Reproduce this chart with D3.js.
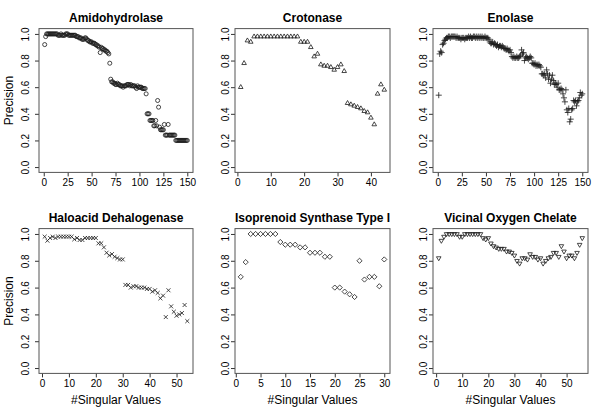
<!DOCTYPE html>
<html>
<head>
<meta charset="utf-8">
<script src="https://cdn.jsdelivr.net/npm/d3@7"></script>
<style>
  body { margin: 0; background: #fff; }
  svg { display: block; }
  text { font-family: "Liberation Sans", Arial, Helvetica, sans-serif; fill: #000; }
</style>
</head>
<body>
<div id="chart"></div>
<script>
const WIDTH = 600;
const HEIGHT = 413;

// precision per number of singular values, one array per superfamily
const amidohydrolase = [
  0.92, 0.98, 1.00, 1.00, 1.00, 1.00, 1.00, 1.00, 1.00, 1.00,
  1.00, 1.00, 1.00, 1.00, 0.99, 0.99, 0.99, 1.00, 0.99, 0.99,
  0.99, 0.99, 1.00, 1.00, 1.00, 0.99, 0.99, 0.99, 0.99, 0.99,
  0.99, 0.99, 0.99, 0.98, 0.98, 0.98, 0.97, 0.97, 0.97, 0.96,
  0.96, 0.96, 0.97, 0.97, 0.96, 0.95, 0.95, 0.94, 0.94, 0.94,
  0.93, 0.93, 0.93, 0.92, 0.92, 0.91, 0.91, 0.90, 0.86, 0.90,
  0.89, 0.89, 0.88, 0.88, 0.87, 0.87, 0.86, 0.85, 0.78, 0.66,
  0.64, 0.64, 0.63, 0.63, 0.62, 0.62, 0.63, 0.62, 0.62, 0.61,
  0.61, 0.61, 0.60, 0.61, 0.61, 0.61, 0.62, 0.62, 0.62, 0.61,
  0.62, 0.61, 0.61, 0.61, 0.61, 0.60, 0.59, 0.61, 0.60, 0.60,
  0.60, 0.60, 0.59, 0.59, 0.59, 0.59, 0.55, 0.40, 0.40, 0.40,
  0.35, 0.35, 0.35, 0.35, 0.31, 0.31, 0.35, 0.31, 0.50, 0.45,
  0.30, 0.28, 0.28, 0.28, 0.28, 0.32, 0.24, 0.24, 0.24, 0.32,
  0.24, 0.24, 0.24, 0.24, 0.24, 0.24, 0.24, 0.20, 0.20, 0.20,
  0.20, 0.20, 0.20, 0.20, 0.20, 0.20, 0.20, 0.20, 0.20, 0.20
];
const crotonase = [
  0.60, 0.78, 0.95, 0.94, 0.98, 0.98, 0.98, 0.98, 0.98, 0.98,
  0.98, 0.98, 0.98, 0.98, 0.98, 0.98, 0.98, 0.98, 0.94, 0.94,
  0.94, 0.90, 0.83, 0.85, 0.77, 0.76, 0.76, 0.75, 0.73, 0.75,
  0.77, 0.72, 0.48, 0.47, 0.46, 0.45, 0.44, 0.42, 0.41, 0.37,
  0.32, 0.55, 0.62, 0.58
];
const enolase = [
  0.54, 0.85, 0.87, 0.86, 0.92, 0.93, 0.95, 0.96, 0.97, 0.97,
  0.98, 0.98, 0.97, 0.98, 0.98, 0.98, 0.98, 0.98, 0.97, 0.98,
  0.97, 0.97, 0.97, 0.96, 0.97, 0.97, 0.97, 0.96, 0.97, 0.97,
  0.97, 0.98, 0.97, 0.98, 0.97, 0.97, 0.98, 0.98, 0.97, 0.98,
  0.97, 0.98, 0.97, 0.98, 0.97, 0.98, 0.97, 0.97, 0.98, 0.97,
  0.97, 0.97, 0.96, 0.94, 0.93, 0.93, 0.94, 0.92, 0.93, 0.92,
  0.91, 0.92, 0.90, 0.91, 0.91, 0.90, 0.91, 0.90, 0.89, 0.89,
  0.88, 0.89, 0.88, 0.87, 0.88, 0.86, 0.83, 0.82, 0.83, 0.82,
  0.82, 0.83, 0.82, 0.82, 0.83, 0.84, 0.88, 0.85, 0.86, 0.80,
  0.82, 0.83, 0.82, 0.81, 0.82, 0.83, 0.82, 0.78, 0.78, 0.77,
  0.78, 0.76, 0.77, 0.76, 0.77, 0.76, 0.75, 0.70, 0.70, 0.69,
  0.70, 0.67, 0.73, 0.70, 0.66, 0.69, 0.63, 0.66, 0.69, 0.65,
  0.62, 0.63, 0.62, 0.60, 0.63, 0.58, 0.58, 0.59, 0.58, 0.55,
  0.52, 0.49, 0.58, 0.43, 0.41, 0.44, 0.34, 0.36, 0.43, 0.44,
  0.50, 0.49, 0.50, 0.46, 0.49, 0.50, 0.52, 0.56, 0.54, 0.55
];
const haloacid = [
  0.98, 0.95, 0.97, 0.98, 0.97, 0.98, 0.98, 0.98, 0.98, 0.98,
  0.98, 0.96, 0.97, 0.955, 0.955, 0.97, 0.97, 0.97, 0.97, 0.97,
  0.93, 0.93, 0.90, 0.86, 0.84, 0.85, 0.83, 0.82, 0.81, 0.81,
  0.62, 0.62, 0.60, 0.61, 0.61, 0.60, 0.60, 0.60, 0.59, 0.59,
  0.57, 0.58, 0.56, 0.52, 0.54, 0.38, 0.58, 0.46, 0.42, 0.39,
  0.40, 0.41, 0.47, 0.35
];
const isoprenoid = [
  0.68, 0.79, 1.00, 1.00, 1.00, 1.00, 1.00, 1.00, 0.94, 0.92,
  0.92, 0.92, 0.90, 0.90, 0.86, 0.86, 0.86, 0.83, 0.83, 0.60,
  0.60, 0.57, 0.55, 0.53, 0.80, 0.66, 0.68, 0.68, 0.61, 0.81
];
const vicinal = [
  0.82, 0.95, 0.98, 1.00, 1.00, 1.00, 1.00, 1.00, 0.98, 0.98,
  1.00, 1.00, 1.00, 1.00, 1.00, 1.00, 1.00, 0.97, 0.96, 0.97,
  0.93, 0.91, 0.90, 0.89, 0.89, 0.89, 0.87, 0.87, 0.86, 0.84,
  0.80, 0.78, 0.82, 0.82, 0.81, 0.85, 0.83, 0.83, 0.81, 0.82,
  0.78, 0.80, 0.82, 0.83, 0.86, 0.86, 0.83, 0.91, 0.87, 0.82,
  0.84, 0.84, 0.82, 0.86, 0.92, 0.97
];

const titles = [
  "Amidohydrolase", "Crotonase", "Enolase",
  "Haloacid Dehalogenase", "Isoprenoid Synthase Type I", "Vicinal Oxygen Chelate"
];
const series = [amidohydrolase, crotonase, enolase, haloacid, isoprenoid, vicinal];
const xTicks = [
  [0, 25, 50, 75, 100, 125, 150],
  [0, 10, 20, 30, 40],
  [0, 25, 50, 75, 100, 125, 150],
  [0, 10, 20, 30, 40, 50],
  [0, 5, 10, 15, 20, 25, 30],
  [0, 10, 20, 30, 40, 50]
];
const yTicks = [0, 0.2, 0.4, 0.6, 0.8, 1.0];
const Y_LABEL = "Precision";
const X_LABEL = "#Singular Values";

// layout of the 2x3 grid (R style plot boxes)
const COL_LEFT = [39, 235, 433];
const COL_RIGHT = [193, 390, 588];
const ROW_TOP = [28.6, 228.6];
const ROW_BOTTOM = [172.4, 373.4];
const Y_LABEL_GAP = [10, 6, 6];

const SYMBOLS = [
  { type: d3.symbolCircle, size: 13, rotate: 0 },
  { type: d3.symbolTriangle2, size: 15, rotate: 0 },
  { type: d3.symbolPlus, size: 14, rotate: 0 },
  { type: d3.symbolTimes, size: 12, rotate: 0 },
  { type: d3.symbolDiamond2, size: 17, rotate: 0 },
  { type: d3.symbolTriangle2, size: 15, rotate: 180 }
];

const svg = d3.select("#chart")
  .append("svg")
  .attr("width", WIDTH)
  .attr("height", HEIGHT)
  .attr("viewBox", `0 0 ${WIDTH} ${HEIGHT}`);

svg.append("rect").attr("width", WIDTH).attr("height", HEIGHT).attr("fill", "#fff");

function drawPanel(i) {
  const col = i % 3;
  const row = Math.floor(i / 3);
  const values = series[i];
  const n = values.length;
  const pad = 0.04 * (n - 1);

  const x = d3.scaleLinear()
    .domain([1 - pad, n + pad])
    .range([COL_LEFT[col], COL_RIGHT[col]]);
  const y = d3.scaleLinear()
    .domain([-0.04, 1.04])
    .range([ROW_BOTTOM[row], ROW_TOP[row]]);

  const g = svg.append("g");

  // x axis
  const xAxis = g.append("g")
    .attr("transform", `translate(0,${ROW_BOTTOM[row]})`)
    .call(d3.axisBottom(x).tickValues(xTicks[i]).tickSize(4).tickPadding(3).tickFormat(d3.format("d")));
  xAxis.select(".domain").remove();
  xAxis.selectAll("line").attr("stroke", "#333");
  xAxis.selectAll("text").attr("font-size", 10).attr("fill", "#000")
    .style("font-family", '"Liberation Sans", Arial, Helvetica, sans-serif');

  // y axis, labels parallel to the axis like R's default
  const yAxis = g.append("g")
    .attr("transform", `translate(${COL_LEFT[col]},0)`)
    .call(d3.axisLeft(y).tickValues(yTicks).tickSize(4).tickFormat(d3.format(".1f")));
  yAxis.select(".domain").remove();
  yAxis.selectAll("line").attr("stroke", "#333");
  yAxis.selectAll("text")
    .attr("font-size", 10)
    .attr("fill", "#000")
    .style("font-family", '"Liberation Sans", Arial, Helvetica, sans-serif')
    .attr("text-anchor", "middle")
    .attr("transform", "rotate(-90)")
    .attr("x", 0)
    .attr("y", -Y_LABEL_GAP[col])
    .attr("dy", 0);

  // box
  g.append("rect")
    .attr("x", COL_LEFT[col])
    .attr("y", ROW_TOP[row])
    .attr("width", COL_RIGHT[col] - COL_LEFT[col])
    .attr("height", ROW_BOTTOM[row] - ROW_TOP[row])
    .attr("fill", "none")
    .attr("stroke", "#555")
    .attr("stroke-width", 1);

  // points
  const sym = SYMBOLS[i];
  const path = d3.symbol().type(sym.type).size(sym.size);
  g.append("g")
    .selectAll("path")
    .data(values)
    .enter()
    .append("path")
    .attr("d", path)
    .attr("transform", (v, k) => `translate(${x(k + 1)},${y(v)}) rotate(${sym.rotate})`)
    .attr("fill", "none")
    .attr("stroke", "#1a1a1a")
    .attr("stroke-width", 0.8);

  // title
  g.append("text")
    .attr("x", (COL_LEFT[col] + COL_RIGHT[col]) / 2)
    .attr("y", ROW_TOP[row] - 7)
    .attr("text-anchor", "middle")
    .attr("font-size", 12)
    .attr("font-weight", "bold")
    .text(titles[i]);

  if (col === 0) {
    const cy = (ROW_TOP[row] + ROW_BOTTOM[row]) / 2;
    g.append("text")
      .attr("transform", `translate(13,${cy}) rotate(-90)`)
      .attr("text-anchor", "middle")
      .attr("font-size", 12)
      .text(Y_LABEL);
  }
  if (row === 1) {
    g.append("text")
      .attr("x", (COL_LEFT[col] + COL_RIGHT[col]) / 2)
      .attr("y", 404)
      .attr("text-anchor", "middle")
      .attr("font-size", 12)
      .text(X_LABEL);
  }
}

for (let i = 0; i < series.length; i++) drawPanel(i);
</script>
</body>
</html>
